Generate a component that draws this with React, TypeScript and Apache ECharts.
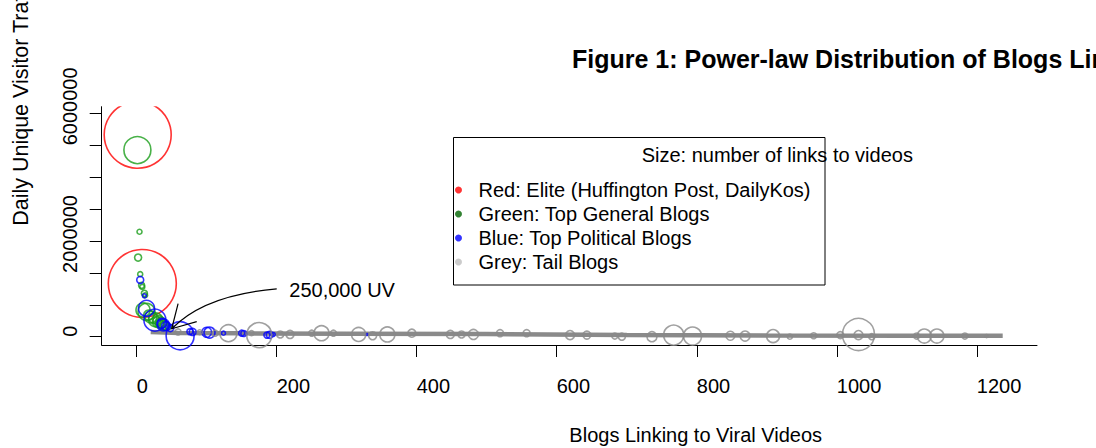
import React, { useEffect, useRef } from "react";
import * as echarts from "echarts";

const FONT = "'Liberation Sans', Arial, Helvetica, sans-serif";

// Axis ticks / labels
const xTicks = [0, 200, 400, 600, 800, 1000, 1200];
const yTicks = [0, 1000000, 2000000, 3000000, 4000000, 5000000, 6000000, 7000000];
const yLabelValues = [0, 2000000, 6000000];

// [blogs linking, daily unique visitors, links to videos]
const eliteBlogs = [
  [1.4, 6330000, 67],
  [8, 1670000, 68],
];

const generalBlogs = [
  [1, 5850000, 27],
  [4, 3290000, 5],
  [2, 2480000, 7],
  [5, 1960000, 5],
  [7, 1610000, 6],
  [8, 1560000, 5],
  [11, 1360000, 6],
  [12, 1300000, 5],
  [14, 780000, 17],
  [9, 840000, 14],
  [17, 680000, 10],
  [20, 620000, 12],
  [24, 580000, 10],
  [27, 530000, 14],
  [29, 500000, 8],
  [31, 470000, 12],
  [33, 400000, 8],
  [35, 430000, 11],
  [38, 370000, 10],
  [40, 350000, 9],
  [45, 310000, 6],
];

const politicalBlogs = [
  [5, 1780000, 7],
  [11, 1280000, 4],
  [14, 890000, 16],
  [26, 520000, 22],
  [36, 420000, 10],
  [38, 370000, 12],
  [42, 330000, 9],
  [48, 270000, 7],
  [62, 30000, 28],
  [76, 160000, 6],
  [80, 150000, 7],
  [100, 140000, 10],
  [104, 130000, 11],
  [124, 110000, 4],
  [150, 110000, 6],
  [153, 100000, 6],
  [186, 50000, 6],
  [190, 60000, 7],
  [195, 70000, 4],
  [329, 70000, 2],
];

const tailBlogs = [
  [59, 150000, 6],
  [90, 140000, 5],
  [112, 110000, 6],
  [131, 110000, 17],
  [164, 110000, 5],
  [175, 50000, 25],
  [205, 70000, 7],
  [219, 70000, 8],
  [250, 110000, 6],
  [264, 110000, 15],
  [281, 110000, 6],
  [317, 70000, 14],
  [337, 30000, 8],
  [358, 70000, 15],
  [393, 110000, 8],
  [448, 70000, 8],
  [464, 70000, 7],
  [481, 70000, 10],
  [519, 110000, 7],
  [557, 110000, 7],
  [619, 50000, 9],
  [643, 50000, 8],
  [683, 20000, 6],
  [693, 0, 7],
  [736, 0, 10],
  [767, 50000, 20],
  [794, 20000, 18],
  [848, 30000, 9],
  [869, 20000, 10],
  [909, 20000, 13],
  [933, 0, 5],
  [967, 30000, 6],
  [1005, 50000, 7],
  [1031, 70000, 32],
  [1031, 50000, 9],
  [1050, 0, 6],
  [1114, 20000, 6],
  [1125, 20000, 14],
  [1143, 20000, 14],
  [1183, 20000, 6],
  [1214, 20000, 3],
];

// dense band of tiny tail blogs
const tailBand = [
  [20, 150000],
  [60, 120000],
  [150, 105000],
  [300, 95000],
  [500, 85000],
  [700, 55000],
  [900, 40000],
  [1100, 30000],
  [1237, 30000],
];

const seriesNames = [
  "Red: Elite (Huffington Post, DailyKos)",
  "Green: Top General Blogs",
  "Blue: Top Political Blogs",
  "Grey: Tail Blogs",
];
const strokeColors = ["#ff0000", "#1a9e1a", "#0000ff", "#888888"];
const legendDotColors = ["#ff0000", "#006400", "#0000ff", "#bebebe"];

// annotation, in data units
const annotText = "250,000 UV";
const annotTip = [50, 250000];
const annotStart = [200, 1500000];
const annotCtrl = [97, 1310000];
const annotTextPos = [218, 1470000];

export default function App() {
  const ref = useRef<HTMLDivElement>(null);
  useEffect(() => {
    if (!ref.current) return;
    const chart = echarts.init(ref.current, null, { renderer: "svg" });
    const groups = [eliteBlogs, generalBlogs, politicalBlogs, tailBlogs];
    const series: any[] = groups.map((g, i) => ({
      name: seriesNames[i],
      type: "scatter",
      data: g,
      symbol: "circle",
      symbolSize: (v: number[]) => v[2],
      itemStyle: { color: "rgba(0,0,0,0)", borderColor: strokeColors[i], borderWidth: 1.6 },
      emphasis: { disabled: true },
      z: 3,
    }));
    series.push({
      name: "tail band",
      type: "line",
      data: tailBand,
      symbol: "none",
      lineStyle: { color: "#8a8a8a", width: 4.5 },
      silent: true,
      z: 2,
    });
    chart.setOption({
      animation: false,
      backgroundColor: "#ffffff",
      textStyle: { fontFamily: FONT },
      title: {
        text: "Figure 1: Power-law Distribution of Blogs Linking to Viral Videos",
        left: 572,
        top: 46,
        padding: 0,
        textStyle: { fontSize: 25, fontWeight: "bold", fontFamily: FONT, color: "#000" },
      },
      grid: {
        left: 101.7,
        right: 59,
        top: 106.7,
        bottom: 103,
        containLabel: false,
        outerBoundsMode: "none",
      },
      xAxis: {
        type: "value",
        min: -50,
        max: 1286,
        name: "Blogs Linking to Viral Videos",
        nameLocation: "middle",
        nameGap: 90,
        nameTextStyle: { fontSize: 20, color: "#000", align: "left", verticalAlign: "middle", fontFamily: FONT },
        splitLine: { show: false },
        axisLine: { show: true, onZero: false, lineStyle: { color: "#000", width: 1 } },
        axisTick: { show: true, length: 12, lineStyle: { color: "#000" }, customValues: xTicks },
        axisLabel: {
          customValues: xTicks,
          fontSize: 20,
          color: "#000",
          align: "left",
          verticalAlign: "middle",
          margin: 41,
          formatter: (v: number) => String(v),
        },
      },
      yAxis: {
        type: "value",
        min: -260000,
        max: 7210000,
        name: "Daily Unique Visitor Traffic",
        nameLocation: "middle",
        nameRotate: 90,
        nameGap: 81,
        nameTextStyle: { fontSize: 21.5, color: "#000", align: "left", verticalAlign: "middle", fontFamily: FONT },
        splitLine: { show: false },
        axisLine: { show: true, onZero: false, lineStyle: { color: "#000", width: 1 } },
        axisTick: { show: true, length: 12, lineStyle: { color: "#000" }, customValues: yTicks },
        axisLabel: {
          customValues: yLabelValues,
          rotate: 90,
          fontSize: 20,
          color: "#000",
          align: "left",
          verticalAlign: "middle",
          margin: 31.7,
          formatter: (v: number) => String(v),
        },
      },
      legend: {
        orient: "vertical",
        left: 455,
        top: 178,
        padding: 0,
        itemGap: 0,
        itemWidth: 30,
        itemHeight: 7,
        selectedMode: false,
        textStyle: { fontSize: 20, color: "#000", lineHeight: 24, fontFamily: FONT },
        data: seriesNames.map((n, i) => ({
          name: n,
          icon: "circle",
          itemStyle: { color: legendDotColors[i], borderWidth: 0 },
        })),
      },
      series,
    });

    const px = (v: number[]) => chart.convertToPixel({ gridIndex: 0 }, v) as number[];
    const tip = px(annotTip);
    const start = px(annotStart);
    const ctrl = px(annotCtrl);
    const tpos = px(annotTextPos);
    const dx = tip[0] - ctrl[0];
    const dy = tip[1] - ctrl[1];
    const len = Math.sqrt(dx * dx + dy * dy);
    const ux = dx / len;
    const uy = dy / len;
    const headLen = 26;
    const ang = (30 * Math.PI) / 180;
    const rot = (a: number) => [
      tip[0] - headLen * (ux * Math.cos(a) - uy * Math.sin(a)),
      tip[1] - headLen * (ux * Math.sin(a) + uy * Math.cos(a)),
    ];
    const h1 = rot(ang);
    const h2 = rot(-ang);

    chart.setOption({
      graphic: [
        {
          type: "rect",
          shape: { x: 103, y: 80, width: 120, height: 26.2 },
          style: { fill: "#ffffff" },
          z: 50,
          silent: true,
        },
        {
          type: "bezierCurve",
          shape: { x1: start[0], y1: start[1], x2: tip[0], y2: tip[1], cpx1: ctrl[0], cpy1: ctrl[1] },
          style: { stroke: "#000", lineWidth: 1.2, fill: "none" },
          z: 60,
          silent: true,
        },
        {
          type: "polyline",
          shape: { points: [h1, tip, h2] },
          style: { stroke: "#000", lineWidth: 1.2, fill: "none" },
          z: 60,
          silent: true,
        },
        {
          type: "text",
          style: {
            text: annotText,
            x: tpos[0],
            y: tpos[1],
            fontSize: 20,
            fontFamily: FONT,
            fill: "#000",
            align: "left",
            verticalAlign: "middle",
          },
          z: 60,
          silent: true,
        },
        {
          type: "rect",
          shape: { x: 453.5, y: 137.5, width: 371.5, height: 147.5 },
          style: { fill: "none", stroke: "#000", lineWidth: 1 },
          z: 40,
          silent: true,
        },
        {
          type: "text",
          style: {
            text: "Size: number of links to videos",
            x: 641.7,
            y: 155,
            fontSize: 20,
            fontFamily: FONT,
            fill: "#000",
            align: "left",
            verticalAlign: "middle",
          },
          z: 60,
          silent: true,
        },
      ],
    });

    return () => chart.dispose();
  }, []);
  return (
    <div
      ref={ref}
      style={{ position: "fixed", left: 0, top: 0, width: 1096, height: 448, background: "#fff" }}
    />
  );
}
